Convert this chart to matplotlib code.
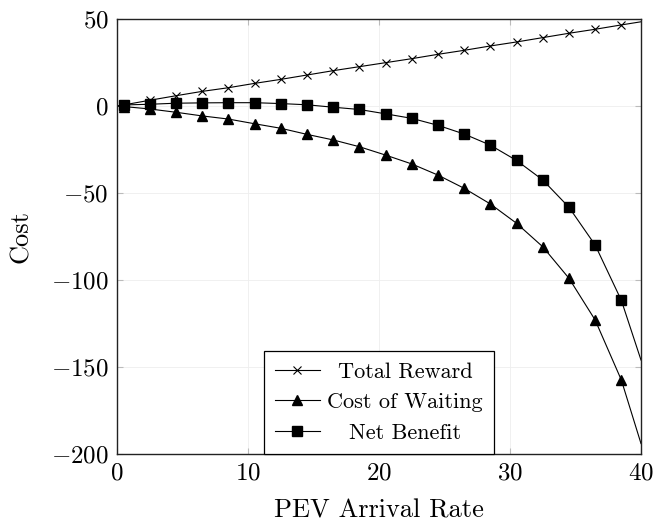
import numpy as np
import matplotlib
matplotlib.use('Agg')
import matplotlib.pyplot as plt

plt.rcParams['font.family'] = 'serif'
plt.rcParams['font.serif'] = ['cmr10']
plt.rcParams['mathtext.fontset'] = 'cm'
plt.rcParams['axes.formatter.use_mathtext'] = True

# PEV arrival rate (first/last points only carry the line to the axes edges)
rate = [0, 0.5, 2.5, 4.5, 6.5, 8.5, 10.5, 12.5, 14.5, 16.5, 18.5,
        20.5, 22.5, 24.5, 26.5, 28.5, 30.5, 32.5, 34.5, 36.5, 38.5, 40]

reward = [0, 0.6, 3.3, 5.9, 8.4, 10.5, 13.0, 15.3, 17.8, 20.3, 22.6,
          24.9, 27.2, 29.7, 32.0, 34.5, 36.8, 39.3, 41.8, 44.1, 46.6, 48.4]

waiting = [0, -0.3, -1.7, -3.6, -5.7, -7.5, -10.2, -12.8, -16.3, -19.5, -23.4,
           -28.2, -33.3, -39.7, -47.3, -56.3, -67.4, -80.9, -99.0, -123.0, -157.5, -194.0]

benefit = [0, 0.6, 1.0, 1.6, 1.8, 1.9, 1.9, 1.4, 0.7, -0.7, -2.0,
           -4.5, -7.1, -11.1, -16.1, -22.5, -31.3, -42.5, -58.2, -79.9, -111.7, -146.0]

labels = ['Total Reward', 'Cost of Waiting', 'Net Benefit']

W, H = 655, 523
fig = plt.figure(figsize=(W / 100, H / 100), dpi=100)
ax = fig.add_axes([117 / W, 1 - 454 / H, 524 / W, 435 / H])

mk = slice(1, -1)
ax.plot(rate, reward, color='k', lw=0.8, marker='x', ms=5.5, mew=0.8,
        markevery=mk, label=labels[0])
ax.plot(rate, waiting, color='k', lw=0.8, marker='^', ms=7,
        markevery=mk, label=labels[1])
ax.plot(rate, benefit, color='k', lw=0.8, marker='s', ms=7.5,
        markevery=mk, label=labels[2])

ax.set_xlim(0, 40)
ax.set_ylim(-200, 50)
ax.set_xticks([0, 10, 20, 30, 40])
ax.set_yticks([-200, -150, -100, -50, 0, 50])
ax.grid(True, color='#eeeeee', lw=0.6)
ax.set_axisbelow(True)
ax.tick_params(direction='in', top=True, right=True, length=4,
               color='#bbbbbb', labelsize=18, pad=6)
for s in ax.spines.values():
    s.set_linewidth(1.0)
    s.set_color('#222222')

ax.set_xlabel('PEV Arrival Rate', fontsize=19, labelpad=10)
ax.set_ylabel('Cost', fontsize=19, labelpad=13)

leg = ax.legend(loc='lower center', borderaxespad=0, fancybox=False,
                edgecolor='k', framealpha=1, fontsize=16, handlelength=2.0,
                handletextpad=0.35, borderpad=0.5, labelspacing=0.5)
leg.get_frame().set_linewidth(0.9)

# centre legend texts like pgfplots does
fig.canvas.draw()
texts = leg.get_texts()
widths = [t.get_window_extent().width for t in texts]
maxw = max(widths)
for t, w in zip(texts, widths):
    t.set_x((maxw - w) / 2)

fig.savefig('out.png', dpi=100)
